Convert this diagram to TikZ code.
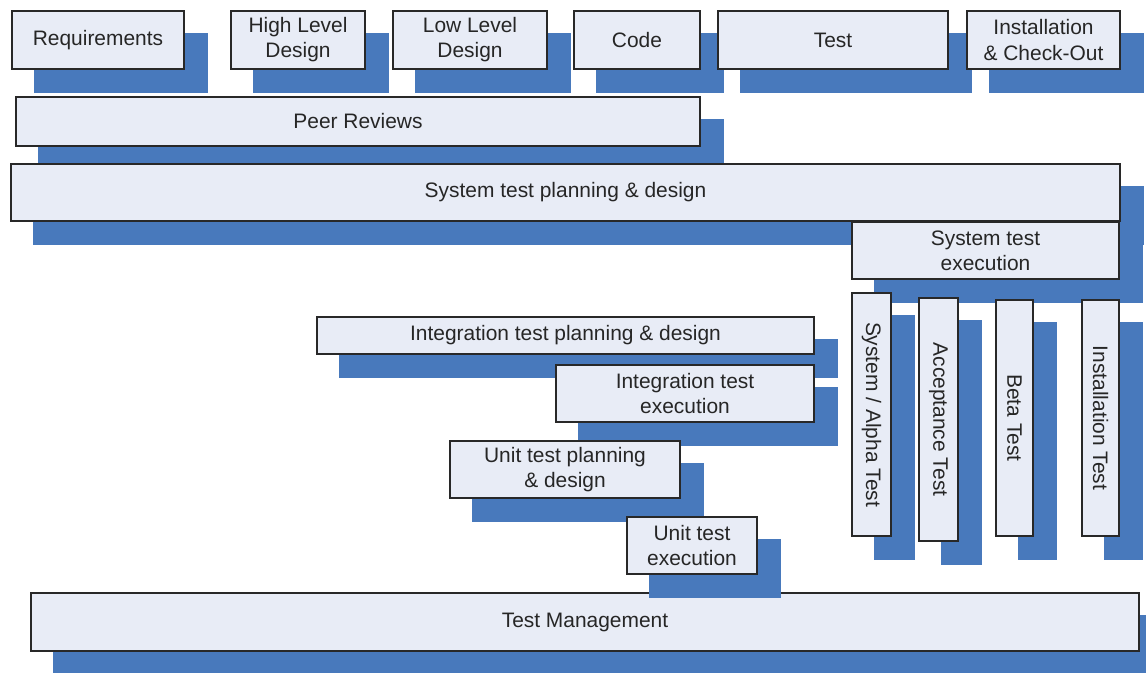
\documentclass[tikz,border=0pt]{standalone}
\usepackage{fontspec}
\setmainfont{Liberation Sans}
\definecolor{shadowblue}{RGB}{72,121,188}
\definecolor{boxfill}{RGB}{232,236,246}
\definecolor{boxline}{RGB}{40,40,40}
\definecolor{labeltext}{RGB}{38,38,38}
\tikzset{
  phasebox/.style={draw=boxline, fill=boxfill, line width=1.2pt, inner sep=0pt,
    align=center, text=labeltext, font=\fontsize{15.7}{18.8}\selectfont},
  phaseshadow/.style={fill=shadowblue}
}
% \phase{name}{x1}{y1}{x2}{y2}{label}: a horizontal activity bar with its offset shadow
\newcommand\phase[6]{%
  \fill[phaseshadow] (#2+22,#3+22) rectangle (#4+24,#5+24);
  \node[phasebox, minimum width={(#4-#2)*0.75pt}, minimum height={(#5-#3)*0.75pt}]
    (#1) at ({(#2+#4)/2},{(#3+#5)/2}) {#6};
}
% \vphase: the same bar standing upright, its label read top to bottom
\newcommand\vphase[6]{%
  \fill[phaseshadow] (#2+22,#3+22) rectangle (#4+24,#5+24);
  \node[phasebox, rotate=-90, minimum width={(#5-#3)*0.75pt}, minimum height={(#4-#2)*0.75pt}]
    (#1) at ({(#2+#4)/2},{(#3+#5)/2}) {#6};
}
\begin{document}
\begin{tikzpicture}[x=0.75pt, y=-0.75pt]
\useasboundingbox (0,0) rectangle (1146,672);
\clip (0,0) rectangle (1146,672);

% management runs underneath everything else
\phase{mgmt}{31}{593}{1139}{651}{Test Management}

% development phases
\phase{req}{12}{11}{184}{69}{Requirements}
\phase{hld}{231}{11}{365}{69}{High Level\\Design}
\phase{lld}{393}{11}{547}{69}{Low Level\\Design}
\phase{code}{574}{11}{700}{69}{Code}
\phase{test}{718}{11}{948}{69}{Test}
\phase{inst}{967}{11}{1120}{69}{Installation\\\& Check-Out}

\phase{peer}{16}{97}{700}{146}{Peer Reviews}
\phase{stpd}{11}{164}{1120}{221}{System test planning \& design}
\phase{stex}{852}{222}{1119}{279}{System test\\execution}

% system-level test kinds
\vphase{alpha}{852}{293}{891}{536}{System / Alpha Test}
\vphase{accept}{919}{298}{958}{541}{Acceptance Test}
\vphase{beta}{996}{300}{1033}{536}{Beta Test}
\vphase{itest}{1082}{300}{1119}{536}{Installation Test}

% integration and unit levels
\phase{itpd}{317}{317}{814}{354}{Integration test planning \& design}
\phase{itex}{556}{365}{814}{422}{Integration test\\execution}
\phase{utpd}{450}{441}{680}{498}{Unit test planning\\\& design}
\phase{utex}{627}{517}{757}{574}{Unit test\\execution}
\end{tikzpicture}
\end{document}
